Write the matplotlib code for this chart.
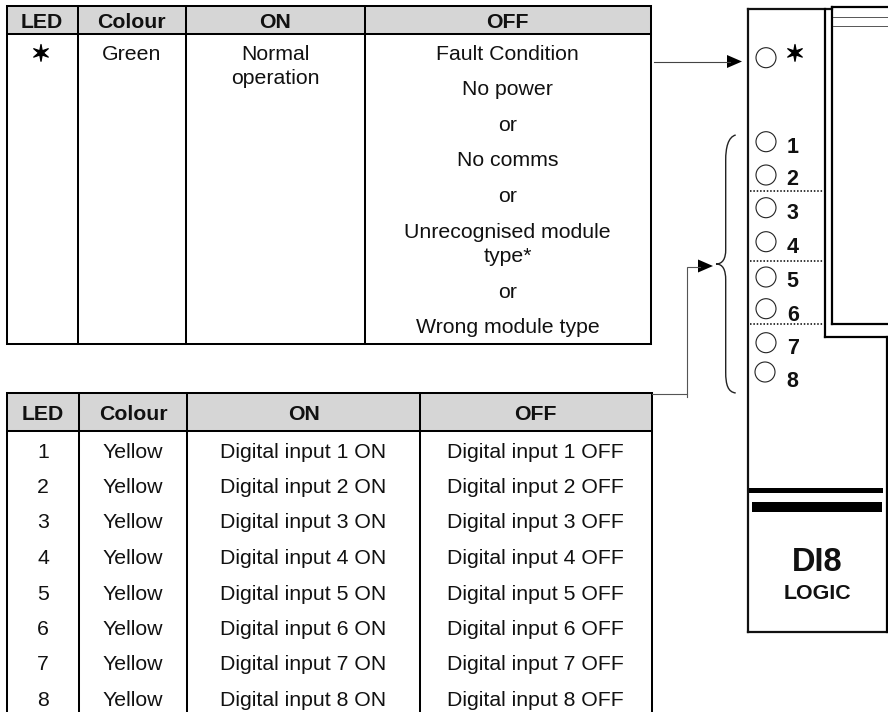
import matplotlib
matplotlib.use("Agg")
import matplotlib.pyplot as plt
import matplotlib.patheffects as pe
from matplotlib.patches import Rectangle, Circle, Polygon, PathPatch
from matplotlib.path import Path

plt.rcParams['font.family'] = ['Liberation Sans', 'DejaVu Sans']

# ---- content ----
top_headers = ["LED", "Colour", "ON", "OFF"]
top_led = "\u2736"
top_colour = "Green"
top_on = ["Normal", "operation"]
top_off = ["Fault Condition", "No power", "or", "No comms", "or",
           "Unrecognised module", "type*", "or", "Wrong module type"]

bot_headers = ["LED", "Colour", "ON", "OFF"]
bot_led = ["1", "2", "3", "4", "5", "6", "7", "8"]
bot_colour = ["Yellow"] * 8
bot_on = [f"Digital input {i} ON" for i in bot_led]
bot_off = [f"Digital input {i} OFF" for i in bot_led]

module_title = "DI8"
module_sub = "LOGIC"

# ---- layout (pixels) ----
top_x = [6.5, 78, 186, 365, 650.5]
top_y = [6, 33.5, 343.5]
top_cx = [42, 131.5, 275, 507.5]
top_on_y = [60.5, 84.5]
top_off_y = [60, 95, 130.7, 165.7, 201.7, 238, 261.7, 297.7, 332.7]

bot_x = [7, 79, 187, 420, 652]
bot_y = [393, 430.5, 712]
bot_cx = [43, 133, 303.5, 535.5]
bot_row_y = [457.5, 493, 528.5, 564, 599.5, 635, 670.5, 706]

led_y = [141.7, 175, 207.7, 241.7, 277, 308.7, 342.7, 372]
num_y = [153.3, 185, 219.3, 253.3, 286.7, 320.7, 354, 387.3]
divider_y = [191.3, 260.7, 324.3]

FS = 15.3
BLK = "#000000"
GREY = "#d6d6d6"
LW = 1.45

fig = plt.figure(figsize=(8.88, 7.12), dpi=100)
ax = fig.add_axes([0, 0, 1, 1])
ax.set_xlim(0, 888)
ax.set_ylim(712, 0)
ax.axis("off")


def line(xs, ys, lw=LW, color=BLK, **kw):
    ax.plot(xs, ys, color=color, lw=lw, solid_capstyle="projecting",
            solid_joinstyle="miter", **kw)


def label(x, y, s, size=FS, weight="normal", **kw):
    return ax.text(x, y, s, ha="center", va="baseline", fontsize=size,
                   weight=weight, color="#111111", **kw)


def star(x, y):
    t = ax.text(x, y, top_led, ha="center", va="center", fontsize=16,
                color=BLK, family="DejaVu Sans")
    t.set_path_effects([pe.withStroke(linewidth=0.9, foreground=BLK)])


def table(xs, ys, closed):
    ax.add_patch(Rectangle((xs[0], ys[0]), xs[-1] - xs[0], ys[1] - ys[0],
                           facecolor=GREY, edgecolor="none"))
    for x in xs:
        line([x, x], [ys[0], ys[2]])
    line([xs[0], xs[-1]], [ys[0], ys[0]])
    line([xs[0], xs[-1]], [ys[1], ys[1]])
    if closed:
        line([xs[0], xs[-1]], [ys[2], ys[2]])


# top table
table(top_x, top_y, True)
for cx, h in zip(top_cx, top_headers):
    label(cx, 28.3, h, weight="bold")
star(top_cx[0] - 1, 55)
label(top_cx[1], 60.5, top_colour)
for y, s in zip(top_on_y, top_on):
    label(top_cx[2], y, s)
for y, s in zip(top_off_y, top_off):
    label(top_cx[3], y, s)

# bottom table
table(bot_x, bot_y, False)
for cx, h in zip(bot_cx, bot_headers):
    label(cx, 420, h, weight="bold")
for i, y in enumerate(bot_row_y):
    label(bot_cx[0], y, bot_led[i])
    label(bot_cx[1], y, bot_colour[i])
    label(bot_cx[2], y, bot_on[i])
    label(bot_cx[3], y, bot_off[i])

# module outline
line([747.5, 747.5], [8.5, 632], lw=1.6, color="#111111")
line([747.5, 831.7], [8.5, 8.5], lw=1.6, color="#111111")
line([747.5, 887], [632, 632], lw=1.6, color="#111111")
line([824.5, 824.5], [8.5, 337], lw=1.6)
line([824.5, 887], [337, 337], lw=1.6)
line([887, 887], [337, 632], lw=1.6)
line([831.7, 831.7], [7, 324], lw=1.6)
line([831.7, 888], [7, 7], lw=1.6)
line([831.7, 888], [324, 324], lw=1.6)
line([833, 888], [16.5, 16.5], lw=0.7, color="#555555")
line([833, 888], [26, 26], lw=0.7, color="#555555")

# module bars
ax.add_patch(Rectangle((748, 488.3), 135, 5, facecolor=BLK, edgecolor="none"))
ax.add_patch(Rectangle((752, 501.5), 129.5, 10.5, facecolor=BLK, edgecolor="none"))

# dividers
for y in divider_y:
    ax.plot([749.5, 823], [y, y], color=BLK, lw=1.1, ls=(0, (1, 1.2)))

# LEDs
ax.add_patch(Circle((766, 57.7), 10, fill=False, edgecolor="#222222", lw=0.8))
for i, (ly, ny) in enumerate(zip(led_y, num_y)):
    ax.add_patch(Circle((766 if i < 7 else 765, ly), 10, fill=False,
                        edgecolor="#222222", lw=0.8))
    label(792.7, ny, bot_led[i], size=15.5, weight="bold")
star(795, 55)

label(817.5, 571, module_title, size=23.5, weight="bold")
label(817, 599, module_sub, size=15.4, weight="bold")

# arrows
line([654, 730], [61.5, 61.5], lw=0.8, color="#444444")
ax.add_patch(Polygon([(727, 55), (742, 61.5), (727, 68)], closed=True,
                     facecolor=BLK, edgecolor="none"))
line([652, 686.7, 686.7, 700], [394, 394, 267, 267], lw=0.8, color="#555555")
line([686.7, 686.7], [394, 397], lw=0.8, color="#555555")
ax.add_patch(Polygon([(698, 259.5), (713, 266), (698, 272.5)], closed=True,
                     facecolor=BLK, edgecolor="none"))

# brace
verts = [(735.7, 135), (728, 137), (725.7, 148), (725.7, 160),
         (725.7, 250), (725.7, 258), (723, 264), (716, 264),
         (723, 264), (725.7, 270), (725.7, 280),
         (725.7, 372), (725.7, 385), (728, 392), (735.7, 393)]
codes = [Path.MOVETO, Path.CURVE4, Path.CURVE4, Path.CURVE4,
         Path.LINETO, Path.CURVE4, Path.CURVE4, Path.CURVE4,
         Path.CURVE4, Path.CURVE4, Path.CURVE4,
         Path.LINETO, Path.CURVE4, Path.CURVE4, Path.CURVE4]
ax.add_patch(PathPatch(Path(verts, codes), fill=False, edgecolor="#222222", lw=1.0))

fig.savefig("out.png", dpi=100, facecolor="white")
